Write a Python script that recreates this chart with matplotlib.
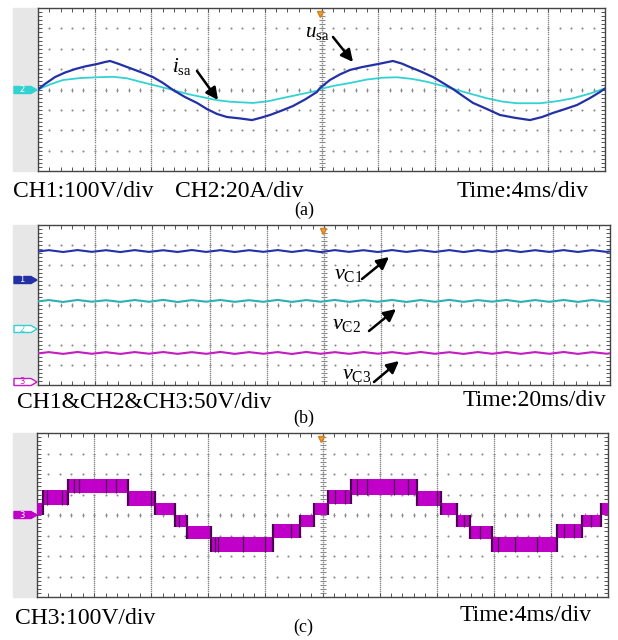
import numpy as np
import matplotlib
matplotlib.use("Agg")
import matplotlib.pyplot as plt
from matplotlib.patches import Polygon, Rectangle

plt.rcParams["font.family"] = ["Liberation Serif", "DejaVu Serif"]
plt.rcParams["mathtext.fontset"] = "custom"
plt.rcParams["mathtext.rm"] = "Liberation Serif"
plt.rcParams["mathtext.it"] = "Liberation Serif:italic"

W, H = 618, 640

# (a) grid voltage u_sa (V) and grid current i_sa (A), 4 ms/div
t_u = [0.00, 0.49, 1.20, 1.90, 2.61, 3.31, 4.16, 4.73, 5.08, 5.64, 6.49,
       7.34, 8.11, 8.82, 9.52, 10.37, 11.22, 11.92, 12.63, 13.33, 14.25,
       15.10, 15.80, 16.37, 17.21, 17.99, 18.84, 19.68, 19.89, 20.60, 21.30,
       22.01, 22.86, 23.99, 25.04, 25.68, 26.24, 27.09, 27.87, 28.57, 29.28,
       29.98, 30.69, 31.68, 32.59, 33.65, 34.71, 35.56, 36.33, 37.18, 38.03,
       38.94, 39.65, 40.00]
u_sa = [0, 27, 61, 83, 100, 113, 125, 135, 140, 127, 105,
        83, 61, 32, -2, -37, -66, -96, -120, -135, -142,
        -150, -137, -125, -103, -81, -49, -12, 7, 47, 74,
        96, 110, 125, 140, 127, 110, 86, 61, 32, 2,
        -32, -66, -96, -125, -139, -150, -135, -115, -96, -76,
        -42, -12, 5]
t_i = [0.00, 0.85, 1.76, 2.96, 4.16, 5.29, 6.28, 7.20, 8.40, 9.52, 10.58,
       11.64, 12.63, 13.55, 15.17, 16.23, 17.28, 18.48, 19.68, 19.89, 20.95,
       22.01, 23.21, 24.34, 25.33, 26.38, 27.44, 28.50, 29.56, 30.62, 31.67,
       32.73, 33.79, 35.41, 36.61, 37.74, 38.94, 39.86, 40.00]
i_sa = [0.0, 5.0, 9.3, 11.2, 12.0, 12.5, 11.0, 7.6, 3.5, -0.5, -4.5,
        -7.6, -10.5, -12.0, -13.2, -11.5, -8.3, -4.8, -1.2, 0.5, 3.8,
        6.4, 9.8, 11.6, 12.0, 10.4, 7.6, 3.8, -0.5, -4.6, -8.6,
        -11.8, -13.5, -13.5, -11.5, -8.6, -4.0, 0.5, 1.0]

# (b) capacitor voltages (V), 20 ms/div, read at ripple troughs and peaks
t_b = np.arange(-1.2, 205.0, 5.0)
v_c1 = [70.2, 74.6, 70.0, 74.8, 70.4, 74.5, 69.9, 74.7, 70.3, 74.4, 70.1,
        74.9, 70.2, 74.6, 70.0, 74.5, 70.4, 74.8, 70.1, 74.6, 69.8, 74.7,
        70.3, 74.5, 70.0, 74.8, 70.2, 74.4, 70.1, 74.7, 69.9, 74.6, 70.3,
        74.8, 70.0, 74.5, 70.2, 74.7, 70.1, 74.6, 70.3, 74.8]
v_c2 = [68.0, 72.3, 67.6, 72.6, 68.2, 71.9, 67.8, 72.4, 68.1, 72.8, 67.5,
        72.2, 68.3, 72.5, 67.9, 72.0, 68.0, 72.7, 67.7, 72.3, 68.2, 72.6,
        67.8, 72.1, 68.1, 72.5, 67.6, 72.4, 68.0, 72.8, 67.9, 72.2, 68.3,
        72.6, 67.7, 72.3, 68.0, 72.5, 67.8, 72.4, 68.1, 72.6]
v_c3 = [73.0, 77.2, 72.8, 77.5, 73.1, 77.0, 72.7, 77.3, 73.2, 77.4, 72.9,
        77.1, 73.0, 77.6, 72.8, 77.2, 73.1, 77.3, 72.6, 77.5, 73.0, 77.1,
        72.9, 77.4, 73.2, 77.2, 72.8, 77.5, 73.0, 77.0, 72.7, 77.3, 73.1,
        77.4, 72.9, 77.2, 73.0, 77.5, 72.8, 77.1, 73.2, 77.3]
b_offsets = [1.25, -1.2, -3.9]   # channel ground markers, div

# (c) seven-level output voltage (V), 4 ms/div: switching band per step
step_t = [0.0, 0.4, 2.2, 6.4, 8.3, 9.7, 10.5, 12.2, 16.5, 18.4, 19.4,
          20.4, 22.0, 26.6, 28.3, 29.4, 30.3, 31.9, 36.4, 38.2, 39.5, 40.0]
step_lo = [0, 50, 105, 45, 0, -60, -115, -180, -110, -60, 0,
           55, 100, 45, 0, -60, -115, -180, -110, -60, 0]
step_hi = [60, 120, 175, 115, 60, 0, -55, -105, -45, 0, 60,
           120, 175, 115, 60, 0, -55, -105, -45, 0, 60]
streak_t = [0.7, 1.75, 2.1, 2.6, 2.95, 4.8, 5.5, 8.0, 9.95, 12.5, 12.7,
            14.4, 16.0, 17.8, 20.9, 21.6, 22.4, 23.1, 25.0, 26.0, 28.0,
            29.9, 31.0, 32.3, 33.5, 35.0, 36.9, 37.6, 38.8]

BLUE = "#2430a6"
CYAN = "#33d2d2"
TEAL = "#2eb0b0"
MAG = "#c21cc2"
MAG_C = "#c000c8"
DARK = "#4c0052"
DOT = "#8a8a8a"

fig = plt.figure(figsize=(W / 100, H / 100), dpi=100)


def screen(x0, y0, x1, y1):
    # light strip holding the channel markers
    fig.add_artist(Rectangle((13 / W, 1 - y1 / H), (x0 - 13) / W, (y1 - y0) / H,
                             transform=fig.transFigure, color="#e7e7e7",
                             zorder=0))
    ax = fig.add_axes([x0 / W, 1 - y1 / H, (x1 - x0) / W, (y1 - y0) / H])
    ax.set_xlim(0, 10)
    ax.set_ylim(-4, 4)
    ax.set_xticks(np.arange(0, 10.01, 0.2))
    ax.set_yticks(np.arange(-4, 4.01, 0.2))
    ax.tick_params(direction="in", length=3, width=0.7, color="#555555",
                   top=True, right=True, labelbottom=False, labelleft=False)
    for s in ax.spines.values():
        s.set_color("#444444")
        s.set_linewidth(1.0)
    xs = np.arange(0, 10.01, 0.2)
    for yl in range(-3, 4):
        ax.plot(xs, np.full_like(xs, yl), ls="none", marker="o", ms=1.5,
                mec="none", color=DOT, zorder=1)
    ys = np.arange(-4, 4.01, 0.1)
    for xl in range(1, 10):
        ax.plot(np.full_like(ys, xl), ys, ls="none", marker="o", ms=1.1,
                mec="none", color=DOT, zorder=1)
    yc = np.arange(-4, 4.01, 0.2)
    ax.plot(np.full_like(yc, 5), yc, ls="none", marker="_", ms=4, mew=0.8,
            color=DOT, zorder=1)
    ax.plot(xs, np.zeros_like(xs), ls="none", marker="|", ms=3, mew=0.8,
            color=DOT, zorder=1)
    ax.plot(4.98, 3.72, marker="v", ms=5, color="#f0a030", mec="#d08020",
            clip_on=False, zorder=5)
    return ax


def channel_tag(y, label, color, filled):
    x0, x1, tip, h = 14, 31, 37, 7
    pts = [(x0, y - h / 2), (x1, y - h / 2), (tip, y), (x1, y + h / 2),
           (x0, y + h / 2)]
    pts = [(x / W, 1 - yy / H) for x, yy in pts]
    fig.add_artist(Polygon(pts, closed=True, transform=fig.transFigure,
                           facecolor=color if filled else "white",
                           edgecolor=color, lw=1.0, zorder=3))
    fig.text(22 / W, 1 - y / H, label, fontsize=6, ha="center", va="center",
             color="white" if filled else color, family="DejaVu Sans",
             zorder=4)


def arrow(ax, x0, y0, x1, y1):
    ax.annotate("", xy=(x1, H - y1), xytext=(x0, H - y0),
                xycoords="figure pixels", textcoords="figure pixels",
                annotation_clip=False, zorder=6,
                arrowprops=dict(arrowstyle="-|>", lw=1.8, color="k",
                                mutation_scale=18, shrinkA=0, shrinkB=0))


def label(x, y, s, size=17, ha="left"):
    fig.text(x / W, 1 - y / H, s, fontsize=size, ha=ha, va="baseline",
             zorder=6)


# ---- (a)
ax_a = screen(38, 8, 605, 171)
ax_a.plot(np.array(t_i) / 4.0, np.array(i_sa) / 20.0, color=CYAN, lw=1.3,
          zorder=3)
ax_a.plot(np.array(t_u) / 4.0, np.array(u_sa) / 100.0, color=BLUE, lw=1.6,
          zorder=4)
channel_tag(90, "2", CYAN, True)
label(172, 72, r"$i_{\rm sa}$", 15)
arrow(ax_a, 197, 71, 218, 100)
label(305, 37, r"$u_{\rm sa}$", 15)
arrow(ax_a, 333, 37, 353, 62)
label(13, 197, "CH1:100V/div")
label(175, 197, "CH2:20A/div")
label(457, 197, "Time:4ms/div")
label(304, 215, "(a)", 13, "center")

# ---- (b)
ax_b = screen(38, 225, 610, 385)
for v, off, c in zip([v_c1, v_c2, v_c3], b_offsets, [BLUE, TEAL, MAG]):
    ax_b.plot(t_b / 20.0, np.array(v) / 50.0 + off, color=c, lw=1.5,
              zorder=3)
channel_tag(280, "1", BLUE, True)
channel_tag(329, "2", CYAN, False)
channel_tag(382, "3", MAG, False)
label(334, 279, r"$v_{\rm C1}$", 16)
arrow(ax_b, 362, 279, 389, 257)
label(332, 329, r"$v_{\rm C2}$", 16)
arrow(ax_b, 369, 331, 396, 309)
label(342, 379, r"$v_{\rm C3}$", 16)
arrow(ax_b, 374, 382, 399, 361)
label(17, 408, "CH1&CH2&CH3:50V/div")
label(463, 406, "Time:20ms/div")
label(304, 423, "(b)", 13, "center")

# ---- (c)
ax_c = screen(37, 433, 608, 597)
tc = np.array(step_t) / 4.0
lo = np.array(step_lo + step_lo[-1:]) / 100.0
hi = np.array(step_hi + step_hi[-1:]) / 100.0
ax_c.fill_between(tc, lo, hi, step="post", color=MAG_C, lw=0, zorder=3)
for k in range(1, len(tc) - 1):
    ax_c.vlines(tc[k], min(lo[k - 1], lo[k]), max(hi[k - 1], hi[k]),
                color=DARK, lw=1.6, zorder=4)
for t in streak_t:
    k = np.searchsorted(tc, t / 4.0) - 1
    ax_c.vlines(t / 4.0, lo[k], hi[k], color=DARK, lw=0.9, zorder=4)
channel_tag(515, "3", MAG_C, True)
label(15, 624, "CH3:100V/div")
label(460, 621, "Time:4ms/div")
label(303, 632, "(c)", 13, "center")

fig.savefig("out.png", dpi=100, facecolor="white")
